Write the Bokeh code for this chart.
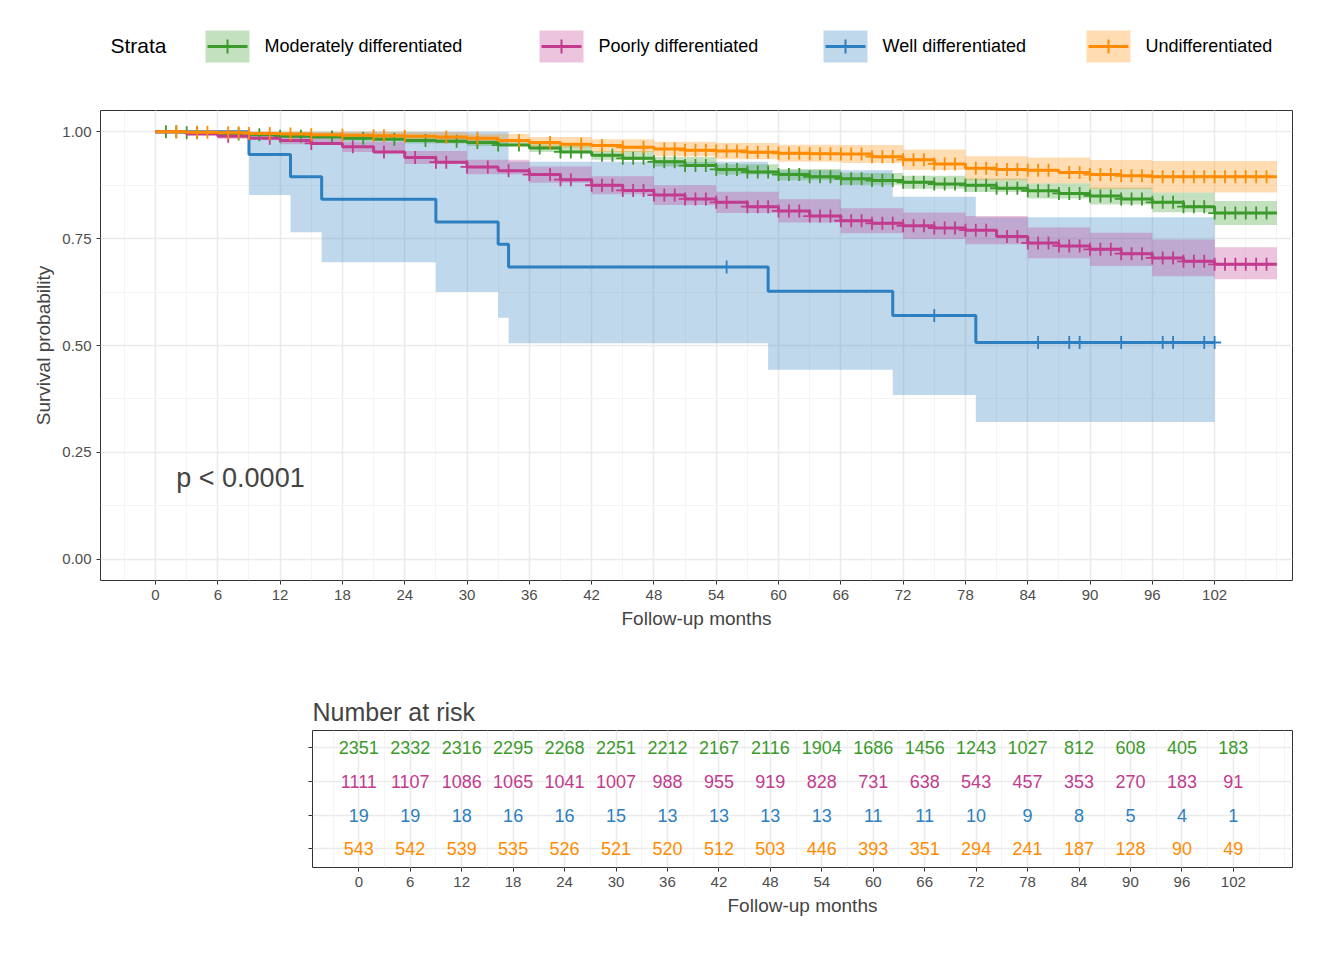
import numpy as np
from bokeh.plotting import figure
from bokeh.models import Range1d, FixedTicker, Label
from bokeh.core.properties import value
from bokeh.embed import file_html
from bokeh.resources import INLINE

FONT = "Liberation Sans"
names = ["Moderately differentiated", "Poorly differentiated", "Well differentiated", "Undifferentiated"]
colors = ["#3b9a2b", "#c23b8e", "#2c7fc1", "#ff8c00"]

# Kaplan-Meier curves (3-month readings)
curve_t = [0, 3, 6, 9, 12, 15, 18, 21, 24, 27, 30, 33, 36, 39, 42, 45, 48, 51, 54, 57, 60, 63, 66, 69, 72, 75, 78, 81, 84, 87, 90, 93, 96, 99, 102, 108]
mod_s = [1.0, 0.998, 0.995, 0.993, 0.99, 0.988, 0.985, 0.983, 0.98, 0.978, 0.975, 0.969, 0.962, 0.953, 0.945, 0.938, 0.93, 0.921, 0.912, 0.906, 0.9, 0.895, 0.89, 0.886, 0.882, 0.878, 0.875, 0.868, 0.862, 0.856, 0.85, 0.843, 0.835, 0.825, 0.81, 0.81]
poor_s = [1.0, 0.995, 0.99, 0.985, 0.98, 0.973, 0.965, 0.953, 0.94, 0.929, 0.918, 0.909, 0.9, 0.888, 0.875, 0.863, 0.852, 0.843, 0.835, 0.825, 0.815, 0.803, 0.792, 0.786, 0.78, 0.775, 0.77, 0.755, 0.74, 0.733, 0.725, 0.715, 0.705, 0.697, 0.69, 0.69]
und_s = [1.0, 0.999, 0.998, 0.996, 0.995, 0.993, 0.992, 0.991, 0.99, 0.988, 0.985, 0.98, 0.975, 0.971, 0.968, 0.964, 0.96, 0.957, 0.955, 0.952, 0.95, 0.949, 0.948, 0.942, 0.935, 0.925, 0.915, 0.912, 0.91, 0.905, 0.9, 0.897, 0.895, 0.895, 0.895, 0.895]

# confidence bands (6-month readings)
band_t = [0, 6, 12, 18, 24, 30, 36, 42, 48, 54, 60, 66, 72, 78, 84, 90, 96, 102, 108]
mod_lo = [1.0, 0.992, 0.986, 0.979, 0.973, 0.967, 0.953, 0.935, 0.919, 0.9, 0.887, 0.876, 0.867, 0.859, 0.844, 0.83, 0.812, 0.782, 0.782]
mod_hi = [1.0, 0.998, 0.994, 0.99, 0.986, 0.982, 0.971, 0.955, 0.941, 0.924, 0.913, 0.904, 0.897, 0.891, 0.88, 0.87, 0.858, 0.838, 0.838]
poor_lo = [1.0, 0.984, 0.971, 0.953, 0.925, 0.901, 0.881, 0.854, 0.829, 0.81, 0.788, 0.763, 0.749, 0.737, 0.704, 0.686, 0.662, 0.655, 0.655]
poor_hi = [1.0, 0.996, 0.989, 0.977, 0.955, 0.935, 0.919, 0.896, 0.875, 0.86, 0.842, 0.821, 0.811, 0.803, 0.776, 0.764, 0.748, 0.73, 0.73]
und_lo = [1.0, 0.994, 0.989, 0.984, 0.981, 0.975, 0.962, 0.953, 0.943, 0.936, 0.93, 0.927, 0.911, 0.887, 0.88, 0.866, 0.858, 0.858, 0.858]
und_hi = [1.0, 1.0, 1.0, 1.0, 0.999, 0.995, 0.988, 0.983, 0.977, 0.974, 0.97, 0.969, 0.959, 0.943, 0.94, 0.934, 0.932, 0.932, 0.932]

well_t = [0, 9, 13, 16, 27, 33, 34, 59, 71, 79, 102]
well_s = [1.0, 0.947, 0.895, 0.842, 0.789, 0.737, 0.684, 0.627, 0.57, 0.507, 0.507]
well_lo = [1.0, 0.852, 0.765, 0.695, 0.625, 0.565, 0.505, 0.443, 0.384, 0.321, 0.321]
well_hi = [1.0, 1.0, 1.0, 1.0, 1.0, 1.0, 0.93, 0.91, 0.848, 0.80, 0.80]

# censoring times
mod_c = [1, 2, 3, 4, 8, 10, 12, 14, 17, 20, 23, 26, 29, 31, 33, 35, 37, 39, 40, 41, 43, 44, 45, 46, 47, 48, 49, 50, 51, 52, 53, 54, 55, 56, 57, 58, 59, 60, 61, 62, 63, 64, 65, 66, 67, 68, 69, 70, 71, 72, 73, 74, 75, 76, 77, 78, 79, 80, 81, 82, 83, 84, 85, 86, 87, 88, 89, 90, 91, 92, 93, 94, 95, 96, 97, 98, 99, 100, 101, 102, 103, 104, 105, 106, 107]
poor_c = [7, 11, 15, 19, 22, 25, 27, 28, 30, 32, 34, 36, 38, 39, 40, 42, 43, 44, 45, 46, 47, 48, 49, 50, 51, 52, 53, 54, 55, 57, 58, 59, 60, 61, 62, 63, 64, 65, 66, 67, 68, 69, 70, 71, 72, 73, 74, 75, 76, 77, 78, 79, 80, 82, 83, 84, 85, 86, 87, 88, 89, 90, 91, 92, 93, 94, 95, 96, 97, 98, 99, 100, 101, 102, 103, 104, 105, 106, 107]
well_c = [55, 75, 85, 88, 89, 93, 97, 98, 101, 102]
und_c = [2, 4, 5, 7, 8, 9, 11, 13, 15, 18, 21, 22, 24, 28, 31, 35, 38, 41, 43, 45, 47, 49, 50, 51, 52, 53, 54, 55, 56, 57, 58, 59, 60, 61, 62, 63, 64, 65, 66, 67, 68, 69, 70, 71, 72, 73, 74, 75, 76, 77, 79, 80, 81, 82, 83, 84, 85, 86, 88, 89, 90, 91, 92, 93, 94, 95, 96, 97, 98, 99, 100, 101, 102, 103, 104, 105, 106, 107]

risk_times = [0, 6, 12, 18, 24, 30, 36, 42, 48, 54, 60, 66, 72, 78, 84, 90, 96, 102]
mod_risk = [2351, 2332, 2316, 2295, 2268, 2251, 2212, 2167, 2116, 1904, 1686, 1456, 1243, 1027, 812, 608, 405, 183]
poor_risk = [1111, 1107, 1086, 1065, 1041, 1007, 988, 955, 919, 828, 731, 638, 543, 457, 353, 270, 183, 91]
well_risk = [19, 19, 18, 16, 16, 15, 13, 13, 13, 13, 11, 11, 10, 9, 8, 5, 4, 1]
und_risk = [543, 542, 539, 535, 526, 521, 520, 512, 503, 446, 393, 351, 294, 241, 187, 128, 90, 49]

series = [
    (curve_t, mod_s, band_t, mod_lo, mod_hi, mod_c, mod_risk),
    (curve_t, poor_s, band_t, poor_lo, poor_hi, poor_c, poor_risk),
    (well_t, well_s, well_t, well_lo, well_hi, well_c, well_risk),
    (curve_t, und_s, band_t, und_lo, und_hi, und_c, und_risk),
]

x_ticks = list(range(0, 103, 6))
x_minor = list(range(-3, 110, 3))


def style(p, yticks, yminor):
    p.outline_line_color = "#333333"
    for ax in (p.xaxis, p.yaxis):
        ax.major_label_text_font = FONT
        ax.major_label_text_font_size = "15px"
        ax.major_label_text_color = "#4d4d4d"
        ax.axis_label_text_font = FONT
        ax.axis_label_text_font_size = "19px"
        ax.axis_label_text_font_style = "normal"
        ax.axis_line_color = None
        ax.major_tick_line_color = "#333333"
        ax.major_tick_in = 0
        ax.major_tick_out = 4
        ax.minor_tick_line_color = None
    p.xaxis.ticker = FixedTicker(ticks=x_ticks, minor_ticks=x_minor)
    p.yaxis.ticker = FixedTicker(ticks=yticks, minor_ticks=yminor)
    p.grid.grid_line_color = "#ebebeb"
    p.grid.grid_line_width = 1.6
    p.grid.minor_grid_line_color = "#f4f4f4"
    p.grid.minor_grid_line_width = 1


# legend strip
leg = figure(width=1328, height=87, toolbar_location=None, output_backend="svg",
             x_range=Range1d(0, 1328), y_range=Range1d(87, 0), min_border=0)
leg.axis.visible = False
leg.grid.visible = False
leg.outline_line_color = None
leg.text([110], [45], text=["Strata"], text_font=value(FONT), text_font_size="21px",
         text_baseline="middle")
box_x = [205, 539, 823, 1086]
for bx, name, c in zip(box_x, names, colors):
    leg.quad(left=bx, right=bx + 44, top=30, bottom=62, fill_color=c, fill_alpha=0.3, line_color=None)
    leg.line([bx + 2, bx + 42], [46, 46], line_color=c, line_width=3)
    leg.scatter([bx + 22], [46], marker="cross", size=14, line_color=c, line_width=2)
    leg.text([bx + 59], [45], text=[name], text_font=value(FONT), text_font_size="18px",
             text_baseline="middle")

# survival curves
p = figure(width=1328, height=570, toolbar_location=None, output_backend="svg",
           x_range=Range1d(-5.3, 109.5), y_range=Range1d(-0.05, 1.05),
           min_border_left=100, min_border_right=36, min_border_top=23, min_border_bottom=77,
           x_axis_label="Follow-up months", y_axis_label="Survival probability")
style(p, [0, 0.25, 0.5, 0.75, 1.0], [0.125, 0.375, 0.625, 0.875])
p.yaxis.major_label_overrides = {0: "0.00", 0.25: "0.25", 0.5: "0.50", 0.75: "0.75", 1.0: "1.00"}

order = [2, 0, 1, 3]
for i in order:
    t, s, bt, lo, hi, cens, _ = series[i]
    p.varea_step(x=bt, y1=lo, y2=hi, step_mode="after", fill_color=colors[i], fill_alpha=0.3)
for i in order:
    t, s, bt, lo, hi, cens, _ = series[i]
    p.step(t, s, mode="after", line_color=colors[i], line_width=3)
    idx = np.searchsorted(t, cens, side="right") - 1
    p.scatter(cens, np.array(s)[idx], marker="cross", size=13, line_color=colors[i], line_width=1.8)

p.add_layout(Label(x=2, y=0.19, text="p < 0.0001", text_font=FONT, text_font_size="27px",
                   text_baseline="middle"))

# risk table
rows = [4, 3, 2, 1]
r = figure(width=1328, height=287, toolbar_location=None, output_backend="svg",
           x_range=Range1d(-5.4, 108.9), y_range=Range1d(0.45, 4.5),
           min_border_left=312, min_border_right=36, min_border_top=73, min_border_bottom=77,
           x_axis_label="Follow-up months", title="Number at risk")
style(r, rows, [])
r.yaxis.major_label_overrides = {k: "" for k in rows}
r.title.text_font = FONT
r.title.text_font_size = "25px"
r.title.text_font_style = "normal"
for i, row in enumerate(rows):
    vals = series[i][6]
    r.text(risk_times, [row] * len(vals), text=[str(v) for v in vals], text_font=value(FONT),
           text_font_size="18px", text_color=colors[i], text_align="center", text_baseline="middle")
    r.add_layout(Label(x=-13, y=row, x_units="screen", text=names[i], text_font=FONT,
                       text_font_size="18px", text_color=colors[i], text_align="right",
                       text_baseline="middle"))
r.add_layout(Label(x=-293, y=2.5, x_units="screen", text="Strata", angle=np.pi / 2,
                   text_font=FONT, text_font_size="21px", text_align="center", text_baseline="middle"))

open("out.html", "w").write(file_html([leg, p, r], INLINE))
